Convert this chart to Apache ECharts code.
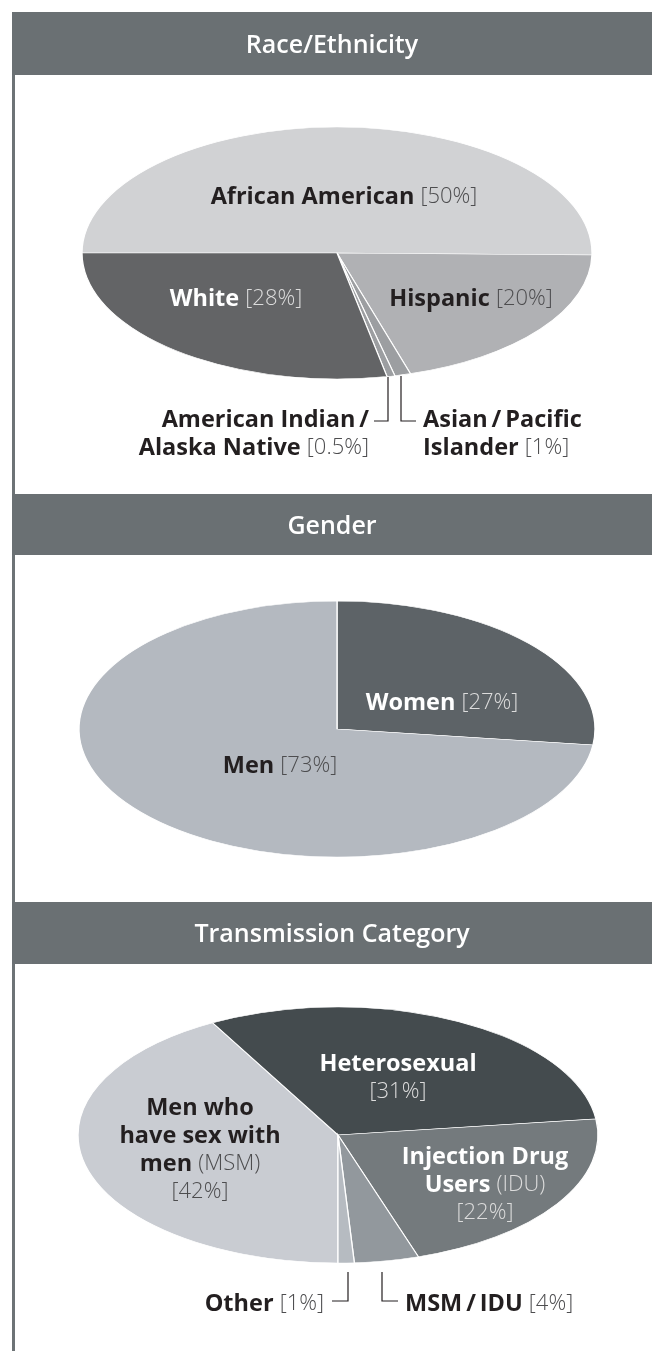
<!DOCTYPE html>
<html>
<head>
<meta charset="utf-8">
<script src="https://cdn.jsdelivr.net/npm/echarts@6/dist/echarts.min.js"></script>
<style>
  html, body { margin: 0; padding: 0; background: #fff; }
  #chart { width: 652px; height: 1351px; }
</style>
</head>
<body>
<div id="chart"></div>
<script>
// ---- data ----
const raceNames = ['African American', 'Hispanic', 'Asian/Pacific Islander', 'American Indian/Alaska Native', 'White']
const raceValues = [50, 20, 1, 0.5, 28]
const raceColors = ['#d1d2d4', '#b0b1b4', '#9c9ea1', '#9c9ea1', '#636466']

const genderNames = ['Women', 'Men']
const genderValues = [27, 73]
const genderColors = ['#5d6367', '#b4b9c0']

const transNames = ['Men who have sex with men (MSM)', 'Heterosexual', 'Injection Drug Users (IDU)', 'MSM/IDU', 'Other']
const transValues = [42, 31, 22, 4, 1]
const transColors = ['#c9ccd2', '#444b4e', '#747a7d', '#92989d', '#b6bbc1']

const sectionTitles = ['Race/Ethnicity', 'Gender', 'Transmission Category']

// ---- layout ----
const headers = [
  { y: 12, h: 63 },
  { y: 494, h: 61 },
  { y: 902, h: 62 },
]
const raceGeo = { cx: 337, cy: 253, rx: 255, ry: 126, start: 180 }
const genderGeo = { cx: 337, cy: 729, rx: 258, ry: 128, start: 270 }
const transGeo = { cx: 338, cy: 1135, rx: 260, ry: 128, start: 90 }

// label text templates: {v} is replaced by the value
const raceLabels = [
  { x: 344, y: 197, lines: ['{b|African American }{r|[{v}%]}'] },
  { x: 471, y: 299, lines: ['{b|Hispanic }{r|[{v}%]}'] },
  { x: 423, y: 434, align: 'left', lines: ['{b|Asian\u2009/\u2009Pacific}', '{b|Islander }{r|[{v}%]}'],
    leader: [[401, 376], [401, 421], [416, 421]] },
  { x: 369, y: 434, align: 'right', lines: ['{b|American Indian\u2009/}', '{b|Alaska Native }{r|[{v}%]}'],
    leader: [[388, 377], [388, 421], [374, 421]] },
  { x: 236, y: 299, light: true, lines: ['{b|White }{r|[{v}%]}'] },
]
const genderLabels = [
  { x: 442, y: 703, light: true, lines: ['{b|Women }{r|[{v}%]}'] },
  { x: 280, y: 766, lines: ['{b|Men }{r|[{v}%]}'] },
]
const transLabels = [
  { x: 200, y: 1150, lines: ['{b|Men who}', '{b|have sex with}', '{b|men }{r|(MSM)}', '{r|[{v}%]}'] },
  { x: 398, y: 1078, light: true, lines: ['{b|Heterosexual}', '{r|[{v}%]}'] },
  { x: 485, y: 1185, light: true, lines: ['{b|Injection Drug}', '{b|Users }{r|(IDU)}', '{r|[{v}%]}'] },
  { x: 405, y: 1304, align: 'left', lines: ['{b|MSM\u2009/\u2009IDU }{r|[{v}%]}'],
    leader: [[382, 1272], [382, 1301], [398, 1301]] },
  { x: 324, y: 1304, align: 'right', lines: ['{b|Other }{r|[{v}%]}'],
    leader: [[348, 1272], [348, 1301], [332, 1301]] },
]

const FONT = '"Open Sans", "Noto Sans", sans-serif'

const richStyles = (light) => ({
  b: { fontFamily: FONT, fontWeight: 'bold', fontSize: 23.5, lineHeight: 28, fill: light ? '#ffffff' : '#231f20' },
  r: { fontFamily: FONT, fontWeight: 300, fontSize: 22, lineHeight: 28, fill: light ? '#dcdcdc' : '#4d4d4f' },
})

const pieSeries = (names, values, colors, labels, geo) => {
  const total = values.reduce((a, b) => a + b, 0)
  const starts = []
  let acc = 0
  values.forEach(v => { starts.push(acc); acc += v })
  const base = geo.start * Math.PI / 180

  return {
    type: 'custom',
    coordinateSystem: 'none',
    silent: true,
    data: values.map((v, i) => ({ name: names[i], value: [v] })),
    renderItem: (params, api) => {
      const i = params.dataIndex
      const v = api.value(0)
      const a0 = base + starts[i] / total * Math.PI * 2
      const a1 = a0 + v / total * Math.PI * 2
      const lab = labels[i]
      const children = [{
        type: 'sector',
        shape: { cx: geo.cx, cy: geo.cy, r0: 0, r: geo.rx, startAngle: a0, endAngle: a1, clockwise: true },
        originX: geo.cx,
        originY: geo.cy,
        scaleY: geo.ry / geo.rx,
        style: { fill: colors[i], stroke: '#ffffff', lineWidth: 1.3, strokeNoScale: true },
      }]
      if (lab) {
        children.push({
          type: 'text',
          x: lab.x,
          y: lab.y,
          z2: 20,
          style: {
            text: lab.lines.join('\n').replace('{v}', String(v)),
            rich: richStyles(lab.light),
            align: lab.align || 'center',
            verticalAlign: 'middle',
          },
        })
        if (lab.leader) {
          children.push({
            type: 'polyline',
            z2: 20,
            shape: { points: lab.leader },
            style: { stroke: '#231f20', lineWidth: 1.2, fill: null },
          })
        }
      }
      return { type: 'group', children }
    },
  }
}

const chart = echarts.init(document.getElementById('chart'), null, { renderer: 'canvas' })

const graphics = [
  // left rule
  { type: 'rect', shape: { x: 12, y: 12, width: 3, height: 1339 }, style: { fill: '#6d7376' }, z: 1 },
]
headers.forEach((h, i) => {
  graphics.push({ type: 'rect', shape: { x: 12, y: h.y, width: 640, height: h.h }, style: { fill: '#6a7073' }, z: 2 })
  graphics.push({
    type: 'text', x: 332, y: h.y + h.h / 2 + 2, z: 3,
    style: { text: sectionTitles[i], fill: '#ffffff', font: '600 25px ' + FONT, align: 'center', verticalAlign: 'middle' },
  })
})

chart.setOption({
  animation: false,
  backgroundColor: '#ffffff',
  graphic: graphics,
  series: [
    pieSeries(raceNames, raceValues, raceColors, raceLabels, raceGeo),
    pieSeries(genderNames, genderValues, genderColors, genderLabels, genderGeo),
    pieSeries(transNames, transValues, transColors, transLabels, transGeo),
  ],
})
</script>
</body>
</html>
